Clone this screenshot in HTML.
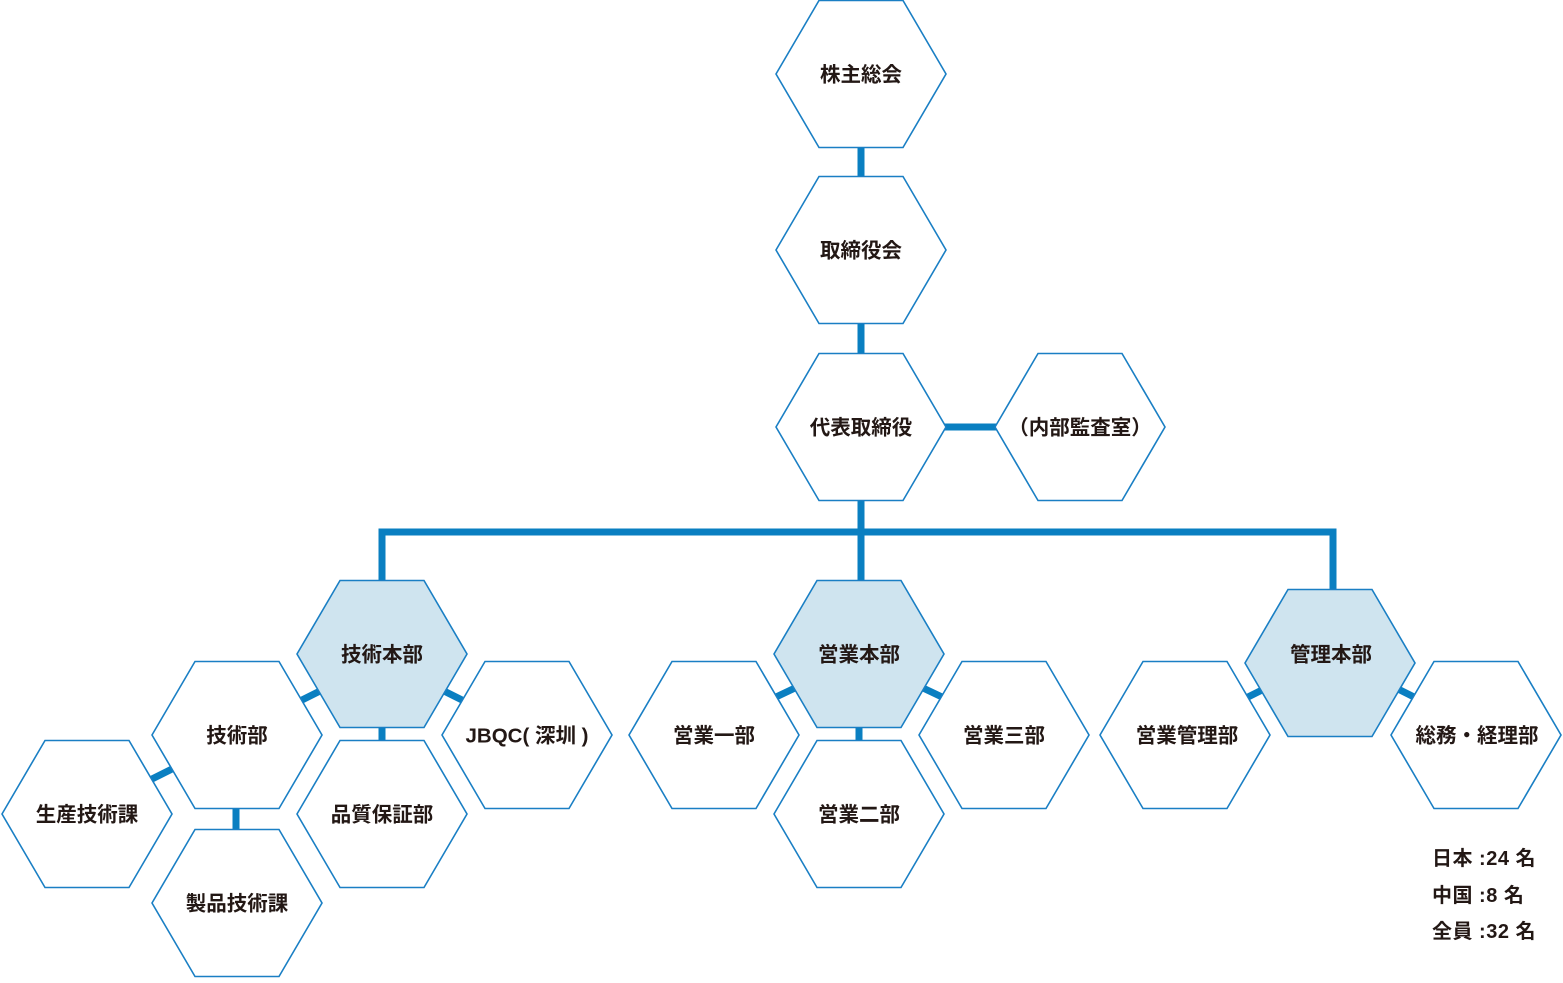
<!DOCTYPE html>
<html><head><meta charset="utf-8"><style>
html,body{margin:0;padding:0;background:#fff;}
svg text{font-family:"Liberation Sans","Noto Sans CJK JP",sans-serif;font-weight:bold;fill:#231815;}
</style></head><body>
<svg width="1563" height="978" viewBox="0 0 1563 978" xmlns="http://www.w3.org/2000/svg">
<defs>
<polygon id="h" points="-85,0 -42,-73.5 42,-73.5 85,0 42,73.5 -42,73.5"/>
</defs>
<g stroke="#0a7fc1" stroke-width="7" fill="none">
<line x1="861" y1="146" x2="861" y2="178"/>
<line x1="861" y1="322" x2="861" y2="355"/>
<line x1="861" y1="499" x2="861" y2="582"/>
<line x1="944" y1="427" x2="997" y2="427"/>
<polyline points="382,582 382,532 1333,532 1333,591"/>
<line x1="382" y1="726" x2="382" y2="741"/>
<line x1="859" y1="726" x2="859" y2="741"/>
<line x1="236" y1="807" x2="236" y2="830"/>
<line x1="302" y1="700" x2="320" y2="691"/>
<line x1="444" y1="691" x2="462" y2="700"/>
<line x1="150" y1="780" x2="172" y2="769"/>
<line x1="776" y1="697" x2="795" y2="688"/>
<line x1="923" y1="688" x2="942" y2="697"/>
<line x1="1248" y1="697" x2="1264" y2="689"/>
<line x1="1398" y1="689" x2="1414" y2="697"/>
</g>
<g stroke="#1a7fc4" stroke-width="1.6" fill="#fff">
<use href="#h" x="861" y="74"/>
<use href="#h" x="861" y="250"/>
<use href="#h" x="861" y="427"/>
<use href="#h" x="1080" y="427"/>
<use href="#h" x="237" y="735"/>
<use href="#h" x="87" y="814"/>
<use href="#h" x="237" y="903"/>
<use href="#h" x="382" y="814"/>
<use href="#h" x="527" y="735"/>
<use href="#h" x="714" y="735"/>
<use href="#h" x="859" y="814"/>
<use href="#h" x="1004" y="735"/>
<use href="#h" x="1185" y="735"/>
<use href="#h" x="1476" y="735"/>
<use href="#h" x="382" y="654" fill="#cfe4ef"/>
<use href="#h" x="859" y="654" fill="#cfe4ef"/>
<use href="#h" x="1330" y="663" fill="#cfe4ef"/>
</g>
<g font-size="20.5" text-anchor="middle" dominant-baseline="central">
<text x="861" y="75">株主総会</text>
<text x="861" y="251">取締役会</text>
<text x="861" y="428">代表取締役</text>
<text x="1080" y="428">（内部監査室）</text>
<text x="382" y="655">技術本部</text>
<text x="859" y="655">営業本部</text>
<text x="1331" y="655">管理本部</text>
<text x="237" y="736">技術部</text>
<text x="87" y="815">生産技術課</text>
<text x="237" y="904">製品技術課</text>
<text x="382" y="815">品質保証部</text>
<text x="527" y="736">JBQC( 深圳 )</text>
<text x="714" y="736">営業一部</text>
<text x="859" y="815">営業二部</text>
<text x="1004" y="736">営業三部</text>
<text x="1187" y="736">営業管理部</text>
<text x="1477" y="736">総務・経理部</text>
</g>
<g font-size="20" dominant-baseline="central" letter-spacing="0.5">
<text x="1432" y="859">日本 :24 名</text>
<text x="1432" y="896">中国 :8 名</text>
<text x="1432" y="932">全員 :32 名</text>
</g>
</svg>
</body></html>
